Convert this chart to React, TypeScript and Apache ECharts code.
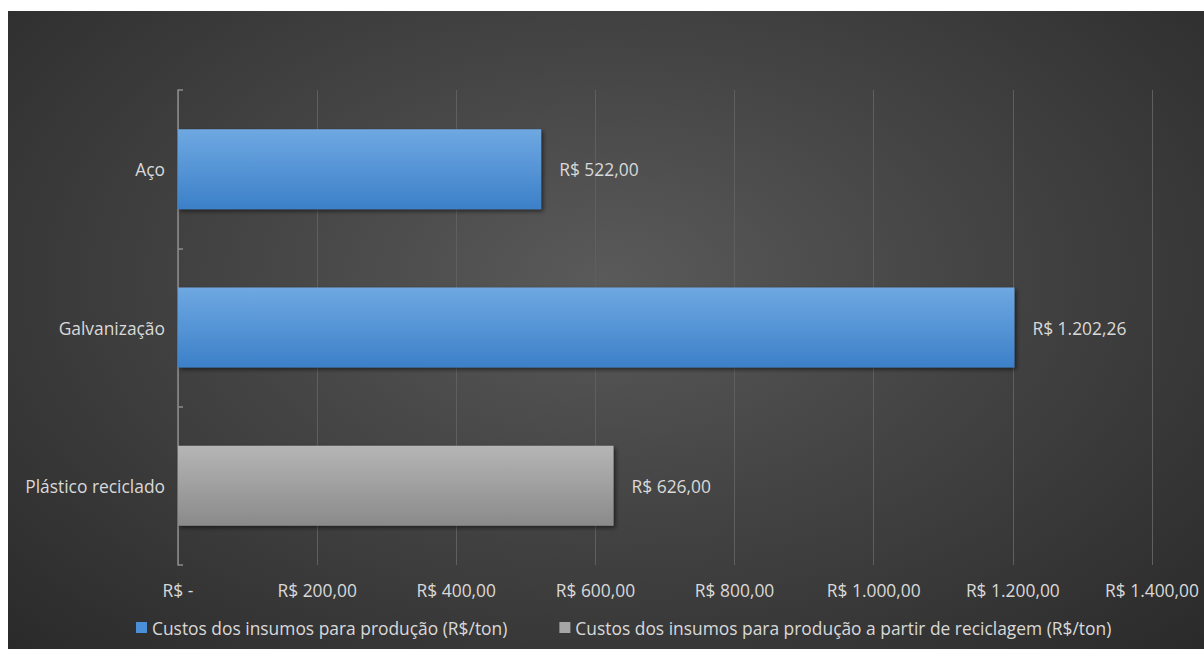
import React, { useEffect, useRef } from "react";
import * as echarts from "echarts";

const categories = ["Aço", "Galvanização", "Plástico reciclado"];
const seriesNames = [
  "Custos dos insumos para produção (R$/ton)",
  "Custos dos insumos para produção a partir de reciclagem (R$/ton)",
];
const productionCosts = [522.0, 1202.26, null];
const recyclingCosts = [null, null, 626.0];
const axisMax = 1400;
const axisInterval = 200;

const fmt = (v: number) => {
  if (v === 0) return "R$ -";
  const s = v.toFixed(2);
  const [i, d] = s.split(".");
  const withDots = i.replace(/\B(?=(\d{3})+(?!\d))/g, ".");
  return `R$ ${withDots},${d}`;
};

const FONT = "'Open Sans', 'Noto Sans', sans-serif";
const TEXT = "#d9d9d9";
const FS = 17.4;

export default function App() {
  const ref = useRef<HTMLDivElement>(null);
  useEffect(() => {
    if (!ref.current) return;
    const chart = echarts.init(ref.current, undefined, { renderer: "svg" });
    const blue = new echarts.graphic.LinearGradient(0, 0, 0, 1, [
      { offset: 0, color: "#6fa8e2" },
      { offset: 1, color: "#3c80c8" },
    ]);
    const gray = new echarts.graphic.LinearGradient(0, 0, 0, 1, [
      { offset: 0, color: "#b5b5b5" },
      { offset: 1, color: "#8a8a8a" },
    ]);
    const shadow = {
      shadowBlur: 4,
      shadowOffsetX: 2,
      shadowOffsetY: 2,
      shadowColor: "rgba(0,0,0,0.55)",
    };
    const label = {
      show: true,
      position: "right" as const,
      distance: 18,
      color: TEXT,
      fontFamily: FONT,
      fontSize: FS,
      formatter: (p: any) => fmt(p.value),
    };
    chart.setOption({
      animation: false,
      textStyle: { fontFamily: FONT },
      grid: { left: 170, right: 52, top: 79, bottom: 84, containLabel: false },
      legend: {
        bottom: 8,
        left: 123,
        itemWidth: 11,
        itemHeight: 11,
        itemGap: 52,
        icon: "rect",
        textStyle: { color: TEXT, fontSize: FS, fontFamily: FONT },
        data: [
          { name: seriesNames[0], itemStyle: { color: "#4a8fd8" } },
          { name: seriesNames[1], itemStyle: { color: "#a6a6a6" } },
        ],
      },
      xAxis: {
        type: "value",
        min: 0,
        max: axisMax,
        interval: axisInterval,
        axisLine: { show: false },
        axisTick: { show: false },
        splitLine: { show: true, lineStyle: { color: "#5f5f5f", width: 1 } },
        axisLabel: {
          color: TEXT,
          fontSize: FS,
          fontFamily: FONT,
          margin: 16,
          formatter: (v: number) => fmt(v),
        },
      },
      yAxis: {
        type: "category",
        data: categories,
        inverse: true,
        axisLine: { show: true, lineStyle: { color: "#8c8c8c", width: 1.5 } },
        axisTick: {
          show: true,
          inside: true,
          length: 5,
          lineStyle: { color: "#8c8c8c", width: 1.5 },
        },
        axisLabel: {
          color: TEXT,
          fontSize: FS,
          fontFamily: FONT,
          margin: 13,
        },
      },
      series: [
        {
          name: seriesNames[0],
          type: "bar",
          stack: "total",
          barWidth: 80,
          data: productionCosts,
          itemStyle: { color: blue, ...shadow },
          label,
        },
        {
          name: seriesNames[1],
          type: "bar",
          stack: "total",
          barWidth: 80,
          data: recyclingCosts,
          itemStyle: { color: gray, ...shadow },
          label,
        },
      ],
    });
    return () => chart.dispose();
  }, []);
  return (
    <div
      ref={ref}
      style={{
        position: "absolute",
        left: 8,
        top: 11,
        width: 1196,
        height: 638,
        background:
          "radial-gradient(ellipse farthest-corner at 50% 42%, #5a5a5a 0%, #464646 40%, #2a2a2a 100%)",
      }}
    />
  );
}
